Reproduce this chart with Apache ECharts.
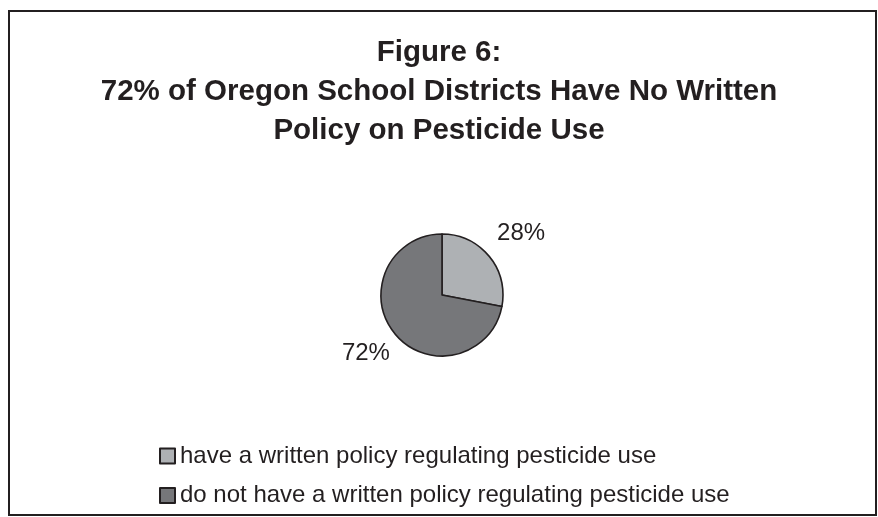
<!DOCTYPE html>
<html>
<head>
<meta charset="utf-8">
<script src="https://cdn.jsdelivr.net/npm/echarts@6/dist/echarts.min.js"></script>
<style>
  html, body { margin: 0; padding: 0; background: #ffffff; overflow: hidden; }
  #frame {
    position: absolute; left: 8px; top: 10px; width: 865px; height: 502px;
    border: 2px solid #231f20; background: #fff;
  }
  #chart { position: absolute; left: 0; top: 0; width: 878px; height: 517px; }
</style>
</head>
<body>
<div id="frame"></div>
<div id="chart"></div>
<script>
// Policy categories and district shares (percent)
const categories = [
  'have a written policy regulating pesticide use',
  'do not have a written policy regulating pesticide use'
];
const shares = [28, 72];
const sliceColors = ['#aeb1b4', '#76777a'];
const titleLines = [
  'Figure 6:',
  '72% of Oregon School Districts Have No Written',
  'Policy on Pesticide Use'
];

const chart = echarts.init(document.getElementById('chart'), null, { renderer: 'canvas' });
const font = '"Liberation Sans", Arial, Helvetica, sans-serif';

chart.setOption({
  backgroundColor: 'transparent',
  animation: false,
  title: {
    text: titleLines.join('\n'),
    left: 'center',
    top: 28,
    padding: [5, 5, 5, 12],
    textStyle: {
      fontFamily: font, fontWeight: 'bold', fontSize: 29.5,
      lineHeight: 39, color: '#231f20'
    }
  },
  legend: {
    orient: 'vertical',
    left: 154,
    top: 439,
    icon: 'rect',
    itemWidth: 15,
    itemHeight: 15,
    itemGap: 15.5,
    itemStyle: { borderColor: '#231f20', borderWidth: 2 },
    textStyle: { fontFamily: font, fontSize: 24, lineHeight: 24, color: '#231f20' },
    data: categories
  },
  series: [{
    type: 'pie',
    center: [442, 295],
    radius: 61,
    startAngle: 90,
    clockwise: true,
    silent: true,
    itemStyle: { borderColor: '#231f20', borderWidth: 1.6 },
    label: {
      show: true,
      position: 'outside',
      formatter: '{c}%',
      fontFamily: font,
      fontSize: 24,
      color: '#231f20'
    },
    labelLine: { show: false, length: 4, length2: 0 },
    labelLayout: function (p) {
      return p.dataIndex === 0 ? { dy: -20 } : { dx: 3, dy: 17 };
    },
    data: categories.map((name, i) => ({
      name: name, value: shares[i], itemStyle: { color: sliceColors[i] }
    }))
  }]
});
</script>
</body>
</html>
